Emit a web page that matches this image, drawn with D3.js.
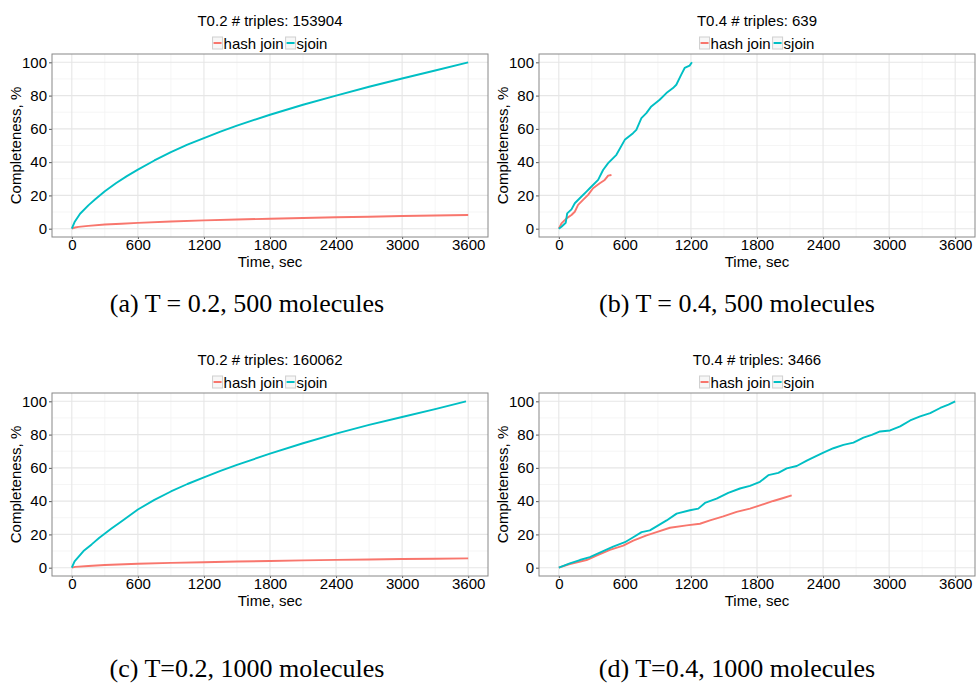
<!DOCTYPE html>
<html>
<head>
<meta charset="utf-8">
<script src="https://cdn.jsdelivr.net/npm/d3@7"></script>
<style>
  body { margin: 0; background: #fff; }
  svg { display: block; }
</style>
</head>
<body>
<script>
// Values: [time (sec), completeness (%)]
const seriesNames = ["hash join", "sjoin"];
const colors = ["#F8766D", "#00BFC4"];
const xTicks = [0, 600, 1200, 1800, 2400, 3000, 3600];
const yTicks = [0, 20, 40, 60, 80, 100];

// (a) T0.2, 500 molecules
const aHash = [[0,0],[30,0.7],[60,1.1],[150,1.7],[300,2.5],[450,3],[600,3.5],[900,4.3],[1200,5],[1500,5.5],[1800,6],[2100,6.4],[2400,6.9],[2700,7.2],[3000,7.6],[3300,7.9],[3600,8.2]];
const aSjoin = [[0,0],[25,4],[75,9],[150,14],[210,17.5],[300,22.5],[400,27.3],[500,31.6],[600,35.5],[750,41],[900,46],[1050,50.5],[1200,54.5],[1350,58.3],[1500,62],[1800,68.5],[2100,74.5],[2400,80],[2700,85.3],[3000,90.3],[3300,95.1],[3600,100]];

// (b) T0.4, 500 molecules
const bHash = [[0,0],[24,3.2],[70,6.2],[115,8.2],[145,10.2],[175,14.3],[220,17.3],[266,20.3],[311,24.3],[372,27.3],[417,29.3],[448,31.9],[478,32.3]];
const bSjoin = [[0,0],[24,1.2],[63,3.6],[76,9.2],[115,11.6],[145,15.3],[190,18.3],[251,22.3],[281,24.3],[357,29.3],[402,35.3],[448,39.4],[523,44.4],[599,53.4],[674,57.4],[704,59.4],[750,66.5],[795,69.5],[840,73.5],[916,77.5],[977,81.5],[1037,84.5],[1067,86.5],[1112,92.6],[1143,96.6],[1188,98],[1209,100]];

// (c) T0.2, 1000 molecules
const cHash = [[0,0],[30,0.5],[150,1],[300,1.6],[600,2.4],[900,2.9],[1200,3.3],[1500,3.7],[1800,4],[2100,4.4],[2400,4.7],[2700,4.9],[3000,5.2],[3300,5.4],[3600,5.6]];
const cSjoin = [[0,0],[25,3.8],[106,10],[180,14],[250,18],[360,23.5],[450,27.8],[600,35],[750,40.8],[900,45.8],[1050,50.3],[1200,54.3],[1350,58.2],[1500,61.8],[1800,68.5],[2100,74.8],[2400,80.6],[2700,85.8],[3000,90.6],[3300,95.3],[3580,100]];

// (d) T0.4, 1000 molecules
const dHash = [[0,0],[100,2.2],[252,4.6],[342,7.3],[464,10.7],[585,13.3],[676,16.3],[797,19.4],[888,21.4],[1009,24],[1161,25.4],[1282,26.4],[1373,28.4],[1494,30.8],[1615,33.5],[1736,35.5],[1827,37.5],[1948,40.1],[2039,41.9],[2115,43.5]];
const dSjoin = [[0,0],[100,2.6],[191,4.6],[282,6.3],[403,9.9],[494,12.7],[600,15.3],[676,18.3],[752,21.4],[827,22.4],[888,24.8],[979,28.4],[1070,32.5],[1191,34.5],[1267,35.5],[1327,38.9],[1433,41.5],[1539,45],[1645,47.6],[1736,49.2],[1827,51.6],[1903,55.6],[1994,57],[2070,59.7],[2161,61.1],[2252,64.3],[2327,66.7],[2403,69.2],[2494,71.8],[2585,73.8],[2676,75.2],[2767,78.2],[2842,79.8],[2918,81.9],[3009,82.5],[3100,84.9],[3191,88.5],[3282,90.9],[3373,92.9],[3464,96],[3539,98],[3600,100]];

const panelTitles = ["T0.2 # triples: 153904", "T0.4 # triples: 639", "T0.2 # triples: 160062", "T0.4 # triples: 3466"];
const captions = ["(a) T = 0.2, 500 molecules", "(b) T = 0.4, 500 molecules", "(c) T=0.2, 1000 molecules", "(d) T=0.4, 1000 molecules"];

const panels = [
  { left: 52, top: 54, title: panelTitles[0], caption: captions[0], capX: 247, capY: 312, data: [aHash, aSjoin] },
  { left: 539, top: 54, title: panelTitles[1], caption: captions[1], capX: 737, capY: 312, data: [bHash, bSjoin] },
  { left: 52, top: 393, title: panelTitles[2], caption: captions[2], capX: 247, capY: 677, data: [cHash, cSjoin] },
  { left: 539, top: 393, title: panelTitles[3], caption: captions[3], capX: 737, capY: 677, data: [dHash, dSjoin] },
];
const pw = 436, ph = 183;
const sans = "'Liberation Sans', Arial, Helvetica, sans-serif";

const svg = d3.select("body").append("svg")
  .attr("width", 976)
  .attr("height", 683);

const xscale = d3.scaleLinear().domain([-180, 3780]).range([0, pw]);
const yscale = d3.scaleLinear().domain([-5, 105]).range([ph, 0]);

panels.forEach((p) => {
  const g = svg.append("g").attr("transform", `translate(${p.left},${p.top})`);

  // minor grid
  const xMinor = xTicks.slice(0, -1).map((t) => t + 300);
  const yMinor = yTicks.slice(0, -1).map((t) => t + 10);
  g.selectAll(".xmin").data(xMinor).join("line")
    .attr("x1", (d) => xscale(d)).attr("x2", (d) => xscale(d))
    .attr("y1", 0).attr("y2", ph)
    .attr("stroke", "#f3f3f3").attr("stroke-width", 0.8);
  g.selectAll(".ymin").data(yMinor).join("line")
    .attr("y1", (d) => yscale(d)).attr("y2", (d) => yscale(d))
    .attr("x1", 0).attr("x2", pw)
    .attr("stroke", "#f3f3f3").attr("stroke-width", 0.8);

  // major grid
  g.selectAll(".xmaj").data(xTicks).join("line")
    .attr("x1", (d) => xscale(d)).attr("x2", (d) => xscale(d))
    .attr("y1", 0).attr("y2", ph)
    .attr("stroke", "#e6e6e6").attr("stroke-width", 1.1);
  g.selectAll(".ymaj").data(yTicks).join("line")
    .attr("y1", (d) => yscale(d)).attr("y2", (d) => yscale(d))
    .attr("x1", 0).attr("x2", pw)
    .attr("stroke", "#e6e6e6").attr("stroke-width", 1.1);

  // axes
  const xaxis = d3.axisBottom(xscale).tickValues(xTicks).tickFormat(d3.format("d")).tickSize(2).tickPadding(0);
  const yaxis = d3.axisLeft(yscale).tickValues(yTicks).tickFormat(d3.format("d")).tickSize(3).tickPadding(2);
  const gx = g.append("g").attr("transform", `translate(0,${ph})`).call(xaxis);
  const gy = g.append("g").call(yaxis);
  [gx, gy].forEach((ax) => {
    ax.select(".domain").remove();
    ax.selectAll(".tick line").attr("stroke", "#555");
    ax.selectAll("text").attr("fill", "#000").style("font-family", sans).style("font-size", "15px");
  });

  // panel border
  g.append("rect").attr("width", pw).attr("height", ph)
    .attr("fill", "none").attr("stroke", "#888").attr("stroke-width", 1);

  // lines
  const line = d3.line().x((d) => xscale(d[0])).y((d) => yscale(d[1]));
  p.data.forEach((s, i) => {
    g.append("path")
      .attr("d", line(s))
      .attr("fill", "none")
      .attr("stroke", colors[i])
      .attr("stroke-width", 1.9)
      .attr("stroke-linejoin", "round");
  });

  // axis titles
  g.append("text")
    .attr("x", pw / 2).attr("y", ph + 30)
    .attr("text-anchor", "middle")
    .style("font-family", sans).style("font-size", "15px").attr("fill", "#000")
    .text("Time, sec");
  g.append("text")
    .attr("transform", `translate(-31,${ph / 2}) rotate(-90)`)
    .attr("text-anchor", "middle")
    .style("font-family", sans).style("font-size", "15px").attr("fill", "#000")
    .text("Completeness, %");

  // panel title
  g.append("text")
    .attr("x", pw / 2).attr("y", -28)
    .attr("text-anchor", "middle")
    .style("font-family", sans).style("font-size", "15px").attr("fill", "#000")
    .text(p.title);

  // legend
  const leg = g.append("g");
  let cx = 0;
  seriesNames.forEach((name, i) => {
    leg.append("rect").attr("x", cx).attr("y", -17).attr("width", 10).attr("height", 12)
      .attr("fill", "#f7f7f7").attr("stroke", "#cfcfcf").attr("stroke-width", 1);
    leg.append("line").attr("x1", cx + 1).attr("x2", cx + 9).attr("y1", -11).attr("y2", -11)
      .attr("stroke", colors[i]).attr("stroke-width", 2);
    const t = leg.append("text").attr("x", cx + 11).attr("y", -5.5)
      .style("font-family", sans).style("font-size", "15px").attr("fill", "#000")
      .text(name);
    cx += 11 + t.node().getComputedTextLength() + 2;
  });
  leg.attr("transform", `translate(${pw / 2 - (cx - 2) / 2},0)`);

  // sub-figure caption
  svg.append("text")
    .attr("x", p.capX).attr("y", p.capY)
    .attr("text-anchor", "middle")
    .style("font-family", "'Liberation Serif', 'Times New Roman', serif")
    .style("font-size", "26px").attr("fill", "#000")
    .text(p.caption);
});
</script>
</body>
</html>
